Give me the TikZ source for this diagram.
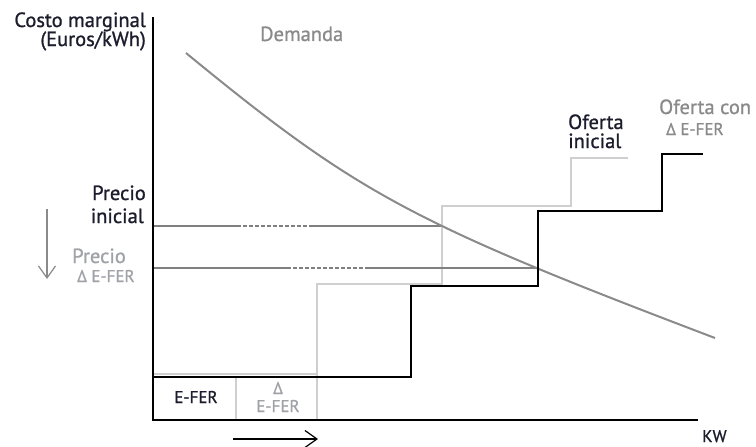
\documentclass[tikz,border=0pt]{standalone}
\usepackage{fontspec}
\setmainfont{PT Sans}[FakeBold=1.0]
\usetikzlibrary{arrows.meta}
\definecolor{txtdark}{HTML}{1C1C2C}
\definecolor{txtgray}{HTML}{8A8A8A}
\definecolor{txtlight}{HTML}{A0A2A8}
\definecolor{pricegray}{HTML}{808080}
\definecolor{demgray}{HTML}{8A8A8A}
\definecolor{supplight}{HTML}{CFCFCF}
\begin{document}
\begin{tikzpicture}[x=1pt,y=-1pt,
  big/.style={inner sep=0pt, font=\fontsize{20.5}{18}\selectfont},
  small/.style={inner sep=0pt, font=\fontsize{17}{16}\selectfont},
  axisline/.style={line width=1.6pt, black},
  supdark/.style={line width=2pt, black},
  suplight/.style={line width=1.4pt, supplight},
  priceline/.style={line width=1.3pt, pricegray},
  pricedash/.style={line width=1.3pt, pricegray, dash pattern=on 4pt off 2pt},
  demline/.style={line width=2pt, demgray},
  barb/.style={-{Straight Barb[length=12pt,width=17pt]}, line width=1.2pt}
]
\useasboundingbox (0,0) rectangle (756,447);

% light supply curve
\draw[suplight] (153,374) -- (317,374);
\draw[suplight] (317,420) -- (317,284) -- (442,284) -- (442,206) -- (571,206) -- (571,158) -- (628,158);
\draw[suplight] (236,376) -- (236,420);

% price lines
\draw[priceline] (153,226) -- (237,226);
\draw[pricedash] (237,226) -- (313,226);
\draw[priceline] (313,226) -- (441,226);
\draw[priceline] (153,268) -- (287,268);
\draw[pricedash] (287,268) -- (368,268);
\draw[priceline] (368,268) -- (539,268);

% demand curve
\draw[demline] (186,53) .. controls (357.7,193.9) and (410.8,222.4) .. (715,338);

% dark supply curve
\draw[supdark] (153,377) -- (411,377) -- (411,286) -- (538,286) -- (538,211) -- (662,211) -- (662,154) -- (703,154);

% axes
\draw[axisline] (153,17) -- (153,420) -- (698,420);

% arrows
\coordinate (dtop) at (47,209);
\coordinate (dbot) at (47,279);
\draw[barb, txtgray] (dtop) -- (dbot);
\coordinate (rleft) at (233,439);
\coordinate (rright) at (318,439);
\draw[barb, black] (rleft) -- (rright);

% labels
\node[big, txtdark, anchor=base east] (cm1) at (146,27) {Costo marginal};
\node[big, txtdark, anchor=base east] (cm2) at (146,46) {(Euros/kWh)};
\node[big, txtgray, anchor=base west] (dem) at (260,41) {Demanda};
\node[big, txtdark, anchor=base east] (pi1) at (146,200) {Precio};
\node[big, txtdark, anchor=base east] (pi2) at (144,223) {inicial};
\node[big, txtlight, anchor=base west] (pd1) at (72,263) {Precio};
\node[small, txtlight, anchor=base west] (pd2) at (77,282) {Δ E-FER};
\node[small, txtdark, anchor=base] (bx1) at (196,403) {E-FER};
\node[small, txtlight, anchor=base] (bx2a) at (278,394) {Δ};
\node[small, txtlight, anchor=base] (bx2b) at (278,412) {E-FER};
\node[big, txtdark, anchor=base west] (oi1) at (568,129) {Oferta};
\node[big, txtdark, anchor=base west] (oi2) at (568,148) {inicial};
\node[big, txtgray, anchor=base west] (oc1) at (659,114) {Oferta con};
\node[small, txtgray, anchor=base west] (oc2) at (666,135) {Δ E-FER};
\node[small, txtdark, anchor=base west] (kw) at (702,442) {KW};
\end{tikzpicture}
\end{document}
